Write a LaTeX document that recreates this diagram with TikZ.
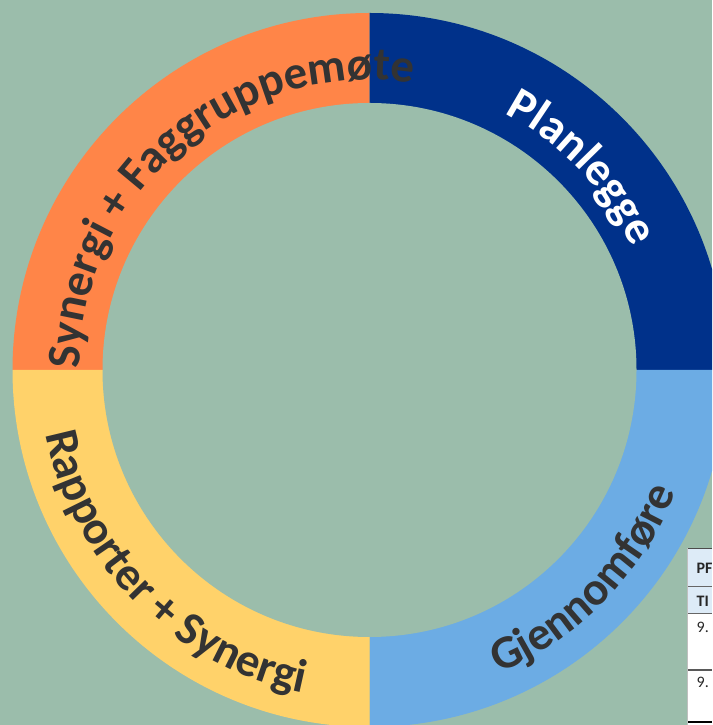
\documentclass[tikz,border=0pt]{standalone}
\usepackage{fontspec}
\setmainfont{Carlito}
\usetikzlibrary{decorations.text}
\definecolor{bg}{HTML}{9BBDAB}
\definecolor{corange}{HTML}{FF8548}
\definecolor{cdblue}{HTML}{00318A}
\definecolor{clblue}{HTML}{6CACE4}
\definecolor{cyellow}{HTML}{FFD26A}
\definecolor{ctext}{HTML}{333333}
\definecolor{thead}{HTML}{DDEBF7}
\newcommand\lblfont{\fontsize{47}{47}\selectfont\bfseries}
\begin{document}
\begin{tikzpicture}[x=1pt,y=1pt,
  lbl/.style={decoration={text along path, text align=center, text color=ctext}, decorate},
  cell/.style={anchor=west, inner sep=0pt, text=black!85, font=\fontsize{16}{16}\selectfont}]
\useasboundingbox (0,0) rectangle (712,725);
\fill[bg] (0,0) rectangle (712,725);
\clip (0,0) rectangle (712,725);
\coordinate (C) at (369.5,355);
% ring sectors
\fill[corange] (C) -- ++(90:357) arc[start angle=90, end angle=180, radius=357] -- cycle;
\fill[cdblue] (C) -- ++(0:357) arc[start angle=0, end angle=90, radius=357] -- cycle;
\fill[clblue] (C) -- ++(270:357) arc[start angle=270, end angle=360, radius=357] -- cycle;
\fill[cyellow] (C) -- ++(180:357) arc[start angle=180, end angle=270, radius=357] -- cycle;
\fill[bg] (C) circle[radius=267];
% labels
\path[shift={(C)}, lbl, decoration={text={|\lblfont|Synergi + Faggruppemøte}}]
  (210.5:290) arc[start angle=210.5, end angle=50.5, radius=290];
\path[shift={(C)}, lbl, decoration={text={|\lblfont|Planlegge}, text color=white}]
  (113.6:290) arc[start angle=113.6, end angle=-26.4, radius=290];
\path[shift={(C)}, lbl, decoration={text={|\lblfont|Gjennomføre}}]
  (-114.3:330) arc[start angle=-114.3, end angle=25.7, radius=330];
\path[shift={(C)}, lbl, decoration={text={|\lblfont|Rapporter + Synergi}}]
  (154.8:330) arc[start angle=154.8, end angle=294.8, radius=330];
% table fragment
\fill[white] (687,0) rectangle (712,177);
\fill[thead] (687,112) rectangle (712,177);
\draw[black!70, line width=0.9pt] (687,177) -- (712,177);
\draw[black!60, line width=0.8pt] (687,139) -- (712,139);
\draw[black!60, line width=0.8pt] (687,112) -- (712,112);
\draw[black!65, line width=1.1pt] (687,55) -- (712,55);
\draw[black, line width=1.6pt] (687,3) -- (712,3);
\draw[gray!50, line width=0.6pt] (687,0) -- (687,177);
\node[cell, font=\fontsize{16}{16}\selectfont\bfseries] (pf) at (696.5,157) {PF};
\node[cell, font=\fontsize{16}{16}\selectfont\bfseries] (ti) at (696.5,124) {TI};
\node[cell] (r1) at (696.5,98) {9.};
\node[cell] (r2) at (696.5,43) {9.};
\end{tikzpicture}
\end{document}
